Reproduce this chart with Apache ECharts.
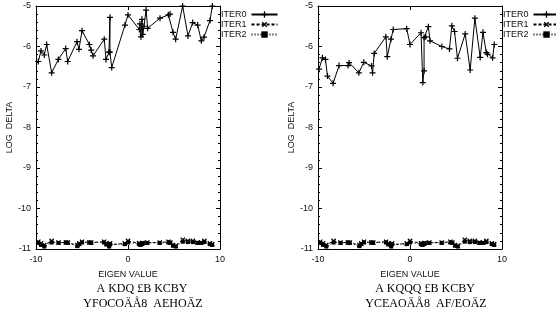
<!DOCTYPE html>
<html>
<head>
<meta charset="utf-8">
<script src="https://cdn.jsdelivr.net/npm/echarts@6/dist/echarts.min.js"></script>
<style>
html,body{margin:0;padding:0;background:#fff;}
#main{width:556px;height:314px;}
</style>
</head>
<body>
<div id="main"></div>
<script>
// eigenvalues + log delta, left run
var eigenL = [-9.75,-9.46,-9.1,-8.84,-8.3,-7.57,-6.77,-6.56,-5.54,-5.33,-5.0,-4.2,-4.0,-3.8,-2.58,-2.39,-2.07,-1.96,-1.96,-1.77,-0.33,0.0,1.23,1.3,1.41,1.52,1.6,1.74,1.96,2.14,3.48,4.39,4.57,4.89,5.18,5.94,6.52,7.03,7.57,7.97,8.26,8.91,9.17];
var iter0L = [-6.37,-6.11,-6.21,-5.95,-6.65,-6.32,-6.05,-6.37,-5.88,-6.07,-5.61,-5.95,-6.09,-6.23,-5.82,-6.32,-6.14,-5.28,-6.14,-6.52,-5.47,-5.22,-5.58,-5.44,-5.76,-5.33,-5.7,-5.5,-5.1,-5.55,-5.3,-5.22,-5.2,-5.65,-5.82,-5.0,-5.74,-5.41,-5.47,-5.86,-5.77,-5.36,-5.0];

// right run
var eigenR = [-9.89,-9.52,-9.19,-8.97,-8.36,-7.71,-6.73,-6.62,-5.56,-5.02,-4.18,-4.07,-3.89,-2.62,-2.47,-2.07,-1.82,-0.36,0.0,1.2,1.39,1.53,1.53,1.71,2.0,2.18,3.46,4.29,4.55,4.84,5.16,6.0,6.54,7.05,7.63,7.93,8.29,8.43,8.98,9.16];
var iter0R = [-6.56,-6.28,-6.32,-6.73,-6.91,-6.47,-6.47,-6.4,-6.65,-6.39,-6.48,-6.65,-6.17,-5.76,-6.25,-5.82,-5.58,-5.56,-5.95,-5.66,-6.89,-6.6,-5.78,-5.76,-5.51,-5.86,-6.0,-6.06,-5.49,-5.63,-6.29,-5.69,-6.58,-5.3,-6.27,-5.65,-6.15,-6.19,-6.28,-5.95];

// later iterations (same in both runs)
var eigenB = [-9.75,-9.45,-9.1,-8.3,-7.55,-6.75,-6.55,-5.5,-5.3,-5.0,-4.2,-4.0,-2.6,-2.35,-2.05,-1.95,-0.35,0.0,1.2,1.35,1.5,1.6,2.1,3.45,4.4,4.6,4.9,5.2,5.95,6.5,7.05,7.55,7.95,8.3,8.9,9.15];
var iter1 = [-10.82,-10.86,-10.9,-10.8,-10.84,-10.84,-10.84,-10.9,-10.86,-10.82,-10.84,-10.84,-10.82,-10.86,-10.9,-10.86,-10.86,-10.8,-10.86,-10.88,-10.86,-10.85,-10.84,-10.84,-10.82,-10.84,-10.9,-10.92,-10.77,-10.8,-10.8,-10.84,-10.84,-10.8,-10.86,-10.88];
var iter2 = [-10.85,-10.9,-10.94,-10.84,-10.85,-10.84,-10.85,-10.93,-10.88,-10.84,-10.84,-10.85,-10.84,-10.89,-10.94,-10.88,-10.88,-10.84,-10.88,-10.9,-10.88,-10.86,-10.85,-10.85,-10.84,-10.85,-10.92,-10.94,-10.82,-10.83,-10.83,-10.85,-10.85,-10.83,-10.88,-10.9];

var seriesNames = ['ITER0','ITER1','ITER2'];
var xTicks = [-10, 0, 10];
var yMin = -11, yMax = -5;

function pairs(xs, ys){
    return xs.map(function(x, i){ return [x, ys[i]]; });
}

var plusPath = 'path://M4,0H6V4H10V6H6V10H4V6H0V4H4Z';
var txt = {color:'#111', fontFamily:'Liberation Sans', fontSize:9};

function xAx(grid, pos, labels){
    return {
        type:'value', gridIndex:grid, position:pos, min:xTicks[0], max:xTicks[2], interval:10,
        axisLine:{show:true, onZero:false, lineStyle:{color:'#000', width:1}},
        axisTick:{show:true, inside:true, length:4, lineStyle:{color:'#000'}},
        axisLabel:Object.assign({show:labels, margin:6}, txt),
        splitLine:{show:false},
        name: labels ? 'EIGEN VALUE' : '', nameLocation:'middle', nameGap:21,
        nameTextStyle:txt
    };
}
function yAx(grid, pos, labels){
    return {
        type:'value', gridIndex:grid, position:pos, min:yMin, max:yMax, interval:1,
        axisLine:{show:true, onZero:false, lineStyle:{color:'#000', width:1}},
        axisTick:{show:true, inside:true, length:4, lineStyle:{color:'#000'}},
        minorTick:{show:true, splitNumber:5, length:2, lineStyle:{color:'#000'}},
        axisLabel:Object.assign({show:labels, margin:5}, txt),
        splitLine:{show:false},
        name: labels ? 'LOG  DELTA' : '', nameLocation:'middle', nameGap:22, nameRotate:90,
        nameTextStyle:txt
    };
}

function mkSeries(xi, yi){
    return [
        {name:'ITER0', type:'line', xAxisIndex:xi, yAxisIndex:yi, data:pairs(xi==0?eigenL:eigenR, xi==0?iter0L:iter0R),
         symbol:plusPath, symbolSize:6, lineStyle:{color:'#000', width:1}, itemStyle:{color:'#000'}, animation:false},
        {name:'ITER1', type:'line', xAxisIndex:xi, yAxisIndex:yi, data:pairs(eigenB, iter1),
         symbol:plusPath, symbolRotate:45, symbolSize:6, lineStyle:{color:'#000', width:1, type:[3,2]}, itemStyle:{color:'#000'}, animation:false},
        {name:'ITER2', type:'line', xAxisIndex:xi, yAxisIndex:yi, data:pairs(eigenB, iter2),
         symbol:'rect', symbolSize:4, lineStyle:{color:'#000', width:1, type:[1,2]}, itemStyle:{color:'#000'}, animation:false}
    ];
}

function legendAt(left){
    return {
        data:seriesNames, orient:'vertical', left:left, top:10, itemGap:1, itemWidth:26, itemHeight:8,
        align:'right', selectedMode:false, textStyle:txt, padding:0
    };
}

var myChart = echarts.init(document.getElementById('main'));
var option = {
    backgroundColor:'#fff',
    animation:false,
    grid:[
        {left:36, top:6, width:184, height:243},
        {left:318, top:6, width:184, height:243}
    ],
    xAxis:[xAx(0,'bottom',true), xAx(0,'top',false), xAx(1,'bottom',true), xAx(1,'top',false)],
    yAxis:[yAx(0,'left',true), yAx(0,'right',false), yAx(1,'left',true), yAx(1,'right',false)],
    legend:[legendAt(221), legendAt(503)],
    series:mkSeries(0,0).concat(mkSeries(2,2)),
    graphic:[
        {type:'text', x:142, y:283, style:{text:'A KDQ £B KCBY', fill:'#000', font:'12px "Liberation Serif"', align:'center'}},
        {type:'text', x:143, y:298, style:{text:'YFOCOÄÅ8  AEHOÄZ', fill:'#000', font:'12px "Liberation Serif"', align:'center'}},
        {type:'text', x:425, y:283, style:{text:'A KQQQ £B KCBY', fill:'#000', font:'12px "Liberation Serif"', align:'center'}},
        {type:'text', x:426, y:298, style:{text:'YCEAOÄÅ8  AF/EOÄZ', fill:'#000', font:'12px "Liberation Serif"', align:'center'}}
    ]
};
myChart.setOption(option);
</script>
</body>
</html>
